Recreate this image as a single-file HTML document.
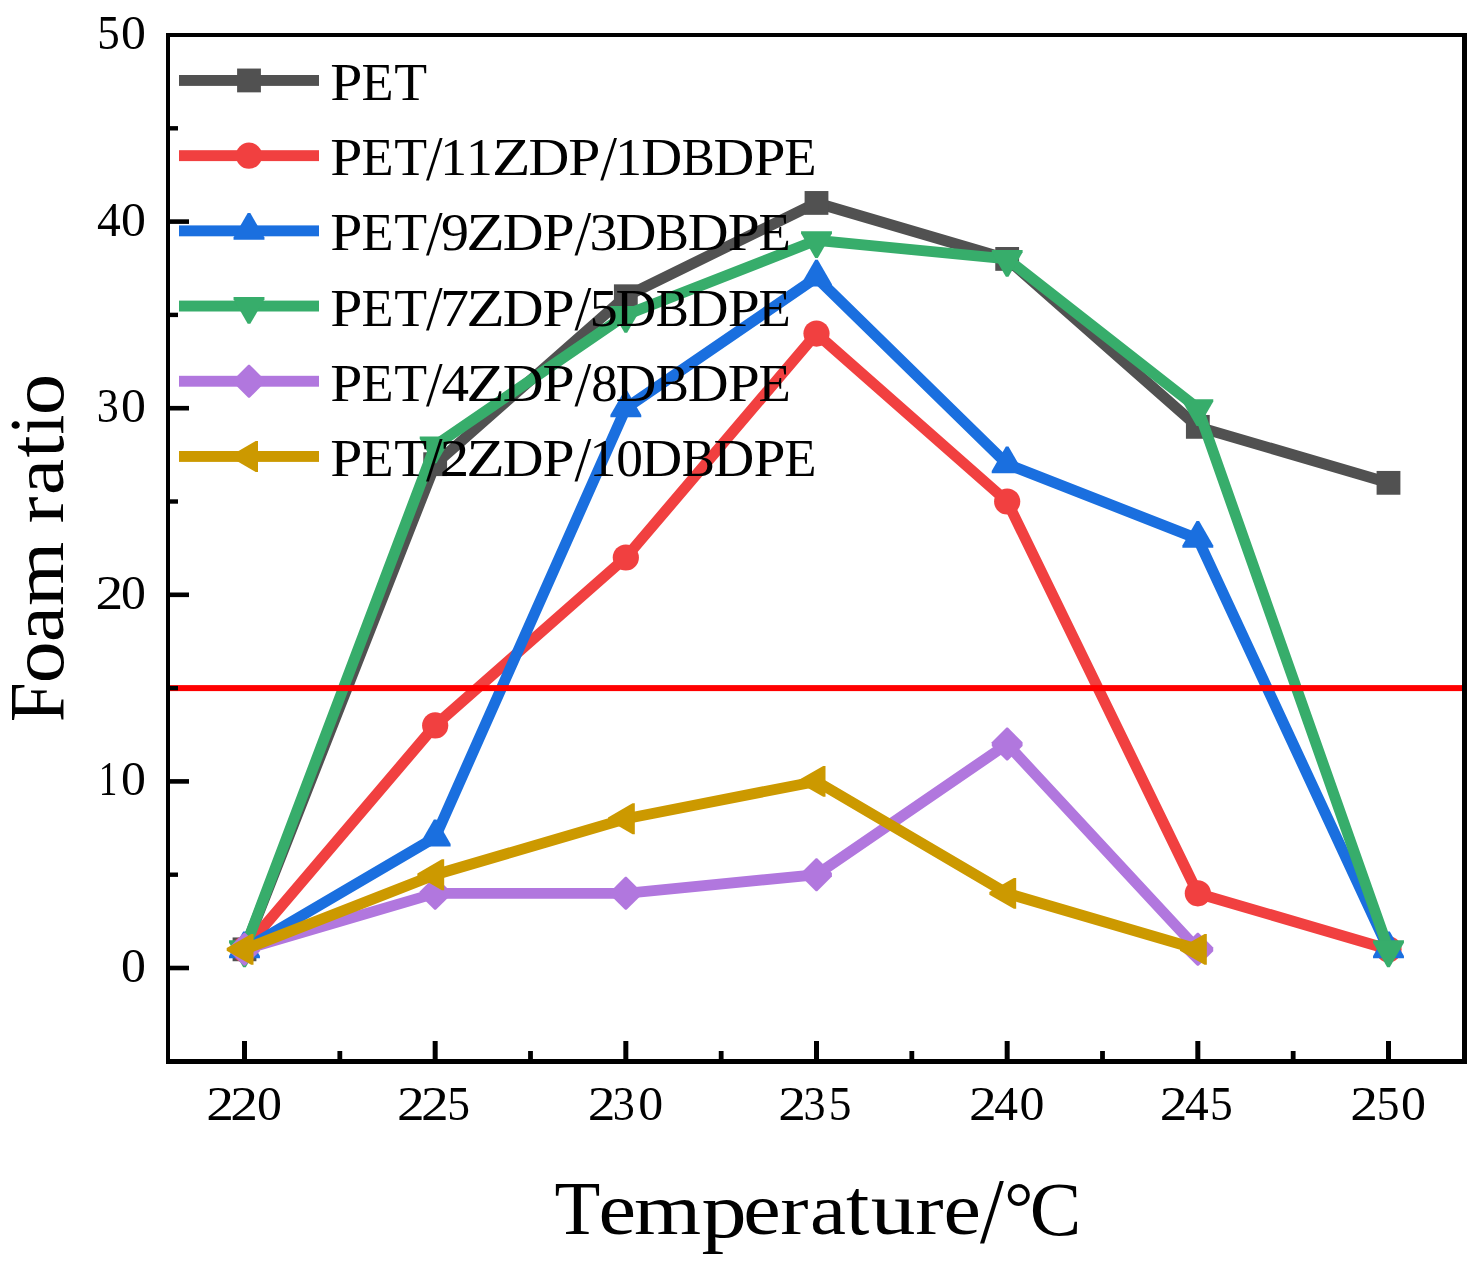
<!DOCTYPE html><html><head><meta charset="utf-8"><style>html,body{margin:0;padding:0;background:#fff;}svg{display:block;}text{font-family:"Liberation Serif",serif;font-size:200px;fill:#000;}.t{opacity:0.999}</style></head><body>
<svg width="1482" height="1271" viewBox="0 0 1482 1271">
<rect width="1482" height="1271" fill="#fff"/>
<path d="M244.50,949.34 L435.17,464.18 L625.83,296.24 L816.50,202.94 L1007.17,258.92 L1197.83,426.86 L1388.50,482.84" fill="none" stroke="#515151" stroke-width="10.9" stroke-linejoin="miter" stroke-miterlimit="4"/>
<rect x="232.60" y="937.44" width="23.8" height="23.8" fill="#515151"/>
<rect x="423.27" y="452.28" width="23.8" height="23.8" fill="#515151"/>
<rect x="613.93" y="284.34" width="23.8" height="23.8" fill="#515151"/>
<rect x="804.60" y="191.04" width="23.8" height="23.8" fill="#515151"/>
<rect x="995.27" y="247.02" width="23.8" height="23.8" fill="#515151"/>
<rect x="1185.93" y="414.96" width="23.8" height="23.8" fill="#515151"/>
<rect x="1376.60" y="470.94" width="23.8" height="23.8" fill="#515151"/>
<path d="M244.50,949.34 L435.17,725.42 L625.83,557.48 L816.50,333.56 L1007.17,501.50 L1197.83,893.36 L1388.50,949.34" fill="none" stroke="#F14040" stroke-width="10.9" stroke-linejoin="miter" stroke-miterlimit="4"/>
<circle cx="244.50" cy="949.34" r="13.1" fill="#F14040"/>
<circle cx="435.17" cy="725.42" r="13.1" fill="#F14040"/>
<circle cx="625.83" cy="557.48" r="13.1" fill="#F14040"/>
<circle cx="816.50" cy="333.56" r="13.1" fill="#F14040"/>
<circle cx="1007.17" cy="501.50" r="13.1" fill="#F14040"/>
<circle cx="1197.83" cy="893.36" r="13.1" fill="#F14040"/>
<circle cx="1388.50" cy="949.34" r="13.1" fill="#F14040"/>
<path d="M244.50,949.34 L435.17,837.38 L625.83,408.20 L816.50,277.58 L1007.17,464.18 L1197.83,538.82 L1388.50,949.34" fill="none" stroke="#1A6FDF" stroke-width="10.9" stroke-linejoin="miter" stroke-miterlimit="4"/>
<polygon points="229.05,956.05 243.20,931.54 245.80,931.54 259.95,956.05 259.95,958.34 229.05,958.34" fill="#1A6FDF"/>
<polygon points="419.72,844.09 433.87,819.58 436.47,819.58 450.62,844.09 450.62,846.38 419.72,846.38" fill="#1A6FDF"/>
<polygon points="610.38,414.91 624.53,390.40 627.13,390.40 641.28,414.91 641.28,417.20 610.38,417.20" fill="#1A6FDF"/>
<polygon points="801.05,284.29 815.20,259.78 817.80,259.78 831.95,284.29 831.95,286.58 801.05,286.58" fill="#1A6FDF"/>
<polygon points="991.72,470.89 1005.87,446.38 1008.47,446.38 1022.62,470.89 1022.62,473.18 991.72,473.18" fill="#1A6FDF"/>
<polygon points="1182.38,545.53 1196.53,521.02 1199.13,521.02 1213.28,545.53 1213.28,547.82 1182.38,547.82" fill="#1A6FDF"/>
<polygon points="1373.05,956.05 1387.20,931.54 1389.80,931.54 1403.95,956.05 1403.95,958.34 1373.05,958.34" fill="#1A6FDF"/>
<path d="M244.50,949.34 L435.17,445.52 L625.83,314.90 L816.50,240.26 L1007.17,258.92 L1197.83,408.20 L1388.50,949.34" fill="none" stroke="#37AD6B" stroke-width="10.9" stroke-linejoin="miter" stroke-miterlimit="4"/>
<polygon points="229.05,942.63 243.20,967.14 245.80,967.14 259.95,942.63 259.95,940.34 229.05,940.34" fill="#37AD6B"/>
<polygon points="419.72,438.81 433.87,463.32 436.47,463.32 450.62,438.81 450.62,436.52 419.72,436.52" fill="#37AD6B"/>
<polygon points="610.38,308.19 624.53,332.70 627.13,332.70 641.28,308.19 641.28,305.90 610.38,305.90" fill="#37AD6B"/>
<polygon points="801.05,233.55 815.20,258.06 817.80,258.06 831.95,233.55 831.95,231.26 801.05,231.26" fill="#37AD6B"/>
<polygon points="991.72,252.21 1005.87,276.72 1008.47,276.72 1022.62,252.21 1022.62,249.92 991.72,249.92" fill="#37AD6B"/>
<polygon points="1182.38,401.49 1196.53,426.00 1199.13,426.00 1213.28,401.49 1213.28,399.20 1182.38,399.20" fill="#37AD6B"/>
<polygon points="1373.05,942.63 1387.20,967.14 1389.80,967.14 1403.95,942.63 1403.95,940.34 1373.05,940.34" fill="#37AD6B"/>
<path d="M244.50,949.34 L435.17,893.36 L625.83,893.36 L816.50,874.70 L1007.17,744.08 L1197.83,949.34" fill="none" stroke="#B177DE" stroke-width="10.9" stroke-linejoin="miter" stroke-miterlimit="4"/>
<polygon points="229.10,947.54 243.80,932.84 245.20,932.84 259.90,947.54 259.90,951.14 245.20,965.84 243.80,965.84 229.10,951.14" fill="#B177DE"/>
<polygon points="419.77,891.56 434.47,876.86 435.87,876.86 450.57,891.56 450.57,895.16 435.87,909.86 434.47,909.86 419.77,895.16" fill="#B177DE"/>
<polygon points="610.43,891.56 625.13,876.86 626.53,876.86 641.23,891.56 641.23,895.16 626.53,909.86 625.13,909.86 610.43,895.16" fill="#B177DE"/>
<polygon points="801.10,872.90 815.80,858.20 817.20,858.20 831.90,872.90 831.90,876.50 817.20,891.20 815.80,891.20 801.10,876.50" fill="#B177DE"/>
<polygon points="991.77,742.28 1006.47,727.58 1007.87,727.58 1022.57,742.28 1022.57,745.88 1007.87,760.58 1006.47,760.58 991.77,745.88" fill="#B177DE"/>
<polygon points="1182.43,947.54 1197.13,932.84 1198.53,932.84 1213.23,947.54 1213.23,951.14 1198.53,965.84 1197.13,965.84 1182.43,951.14" fill="#B177DE"/>
<path d="M244.50,949.34 L435.17,874.70 L625.83,818.72 L816.50,781.40 L1007.17,893.36 L1197.83,949.34" fill="none" stroke="#CC9900" stroke-width="10.9" stroke-linejoin="miter" stroke-miterlimit="4"/>
<polygon points="251.21,933.89 226.70,948.04 226.70,950.64 251.21,964.79 253.50,964.79 253.50,933.89" fill="#CC9900"/>
<polygon points="441.88,859.25 417.37,873.40 417.37,876.00 441.88,890.15 444.17,890.15 444.17,859.25" fill="#CC9900"/>
<polygon points="632.54,803.27 608.03,817.42 608.03,820.02 632.54,834.17 634.83,834.17 634.83,803.27" fill="#CC9900"/>
<polygon points="823.21,765.95 798.70,780.10 798.70,782.70 823.21,796.85 825.50,796.85 825.50,765.95" fill="#CC9900"/>
<polygon points="1013.87,877.91 989.37,892.06 989.37,894.66 1013.87,908.81 1016.17,908.81 1016.17,877.91" fill="#CC9900"/>
<polygon points="1204.54,933.89 1180.03,948.04 1180.03,950.64 1204.54,964.79 1206.83,964.79 1206.83,933.89" fill="#CC9900"/>
<rect x="168" y="685.10" width="1296" height="6" fill="#FF0000"/>
<g fill="#000">
<rect x="166" y="33" width="4" height="1031"/>
<rect x="1462" y="33" width="5" height="1031"/>
<rect x="166" y="33" width="1301" height="4"/>
<rect x="166" y="1059" width="1301" height="5"/>
<rect x="166" y="965.70" width="23" height="4.6"/>
<rect x="166" y="779.10" width="23" height="4.6"/>
<rect x="166" y="592.50" width="23" height="4.6"/>
<rect x="166" y="405.90" width="23" height="4.6"/>
<rect x="166" y="219.30" width="23" height="4.6"/>
<rect x="166" y="872.50" width="12" height="4.4"/>
<rect x="166" y="685.90" width="12" height="4.4"/>
<rect x="166" y="499.30" width="12" height="4.4"/>
<rect x="166" y="312.70" width="12" height="4.4"/>
<rect x="166" y="126.10" width="12" height="4.4"/>
<rect x="242.00" y="1041" width="5" height="23"/>
<rect x="432.67" y="1041" width="5" height="23"/>
<rect x="623.33" y="1041" width="5" height="23"/>
<rect x="814.00" y="1041" width="5" height="23"/>
<rect x="1004.67" y="1041" width="5" height="23"/>
<rect x="1195.33" y="1041" width="5" height="23"/>
<rect x="1386.00" y="1041" width="5" height="23"/>
<rect x="337.43" y="1051" width="4.8" height="13"/>
<rect x="528.10" y="1051" width="4.8" height="13"/>
<rect x="718.77" y="1051" width="4.8" height="13"/>
<rect x="909.43" y="1051" width="4.8" height="13"/>
<rect x="1100.10" y="1051" width="4.8" height="13"/>
<rect x="1290.77" y="1051" width="4.8" height="13"/>
</g>
<rect x="179" y="75.00" width="140" height="10.9" fill="#515151"/>
<rect x="237.10" y="68.55" width="23.8" height="23.8" fill="#515151"/>
<rect x="179" y="150.20" width="140" height="10.9" fill="#F14040"/>
<circle cx="249.00" cy="155.65" r="13.1" fill="#F14040"/>
<rect x="179" y="225.40" width="140" height="10.9" fill="#1A6FDF"/>
<polygon points="233.55,237.56 247.70,213.05 250.30,213.05 264.45,237.56 264.45,239.85 233.55,239.85" fill="#1A6FDF"/>
<rect x="179" y="300.60" width="140" height="10.9" fill="#37AD6B"/>
<polygon points="233.55,299.34 247.70,323.85 250.30,323.85 264.45,299.34 264.45,297.05 233.55,297.05" fill="#37AD6B"/>
<rect x="179" y="375.80" width="140" height="10.9" fill="#B177DE"/>
<polygon points="233.60,379.45 248.30,364.75 249.70,364.75 264.40,379.45 264.40,383.05 249.70,397.75 248.30,397.75 233.60,383.05" fill="#B177DE"/>
<rect x="179" y="451.00" width="140" height="10.9" fill="#CC9900"/>
<polygon points="255.71,441.00 231.20,455.15 231.20,457.75 255.71,471.90 258.00,471.90 258.00,441.00" fill="#CC9900"/>
<g class="t">
<text transform="translate(121.00,982.00) scale(0.2489,0.2391)">0</text>
<text transform="translate(98.63,795.40) scale(0.1861,0.2409)">1</text>
<text transform="translate(121.00,795.40) scale(0.2489,0.2391)">0</text>
<text transform="translate(95.47,608.80) scale(0.2769,0.2401)">2</text>
<text transform="translate(121.00,608.80) scale(0.2489,0.2391)">0</text>
<text transform="translate(96.69,422.20) scale(0.2203,0.2401)">3</text>
<text transform="translate(121.00,422.20) scale(0.2489,0.2391)">0</text>
<text transform="translate(96.97,235.60) scale(0.2377,0.2416)">4</text>
<text transform="translate(121.00,235.60) scale(0.2489,0.2391)">0</text>
<text transform="translate(97.29,49.00) scale(0.2247,0.2428)">5</text>
<text transform="translate(121.00,49.00) scale(0.2489,0.2391)">0</text>
<text transform="translate(206.32,1119.90) scale(0.2769,0.2424)">2</text>
<text transform="translate(230.22,1119.90) scale(0.2769,0.2424)">2</text>
<text transform="translate(256.90,1119.90) scale(0.2495,0.2413)">0</text>
<text transform="translate(396.98,1119.90) scale(0.2769,0.2424)">2</text>
<text transform="translate(420.88,1119.90) scale(0.2769,0.2424)">2</text>
<text transform="translate(447.33,1119.90) scale(0.2271,0.2451)">5</text>
<text transform="translate(587.65,1119.90) scale(0.2769,0.2424)">2</text>
<text transform="translate(612.72,1119.90) scale(0.2203,0.2424)">3</text>
<text transform="translate(638.23,1119.90) scale(0.2495,0.2413)">0</text>
<text transform="translate(778.32,1119.90) scale(0.2769,0.2424)">2</text>
<text transform="translate(803.39,1119.90) scale(0.2203,0.2424)">3</text>
<text transform="translate(828.66,1119.90) scale(0.2271,0.2451)">5</text>
<text transform="translate(968.98,1119.90) scale(0.2769,0.2424)">2</text>
<text transform="translate(994.34,1119.90) scale(0.2377,0.2438)">4</text>
<text transform="translate(1019.57,1119.90) scale(0.2495,0.2413)">0</text>
<text transform="translate(1159.65,1119.90) scale(0.2769,0.2424)">2</text>
<text transform="translate(1185.00,1119.90) scale(0.2377,0.2438)">4</text>
<text transform="translate(1209.99,1119.90) scale(0.2271,0.2451)">5</text>
<text transform="translate(1350.32,1119.90) scale(0.2769,0.2424)">2</text>
<text transform="translate(1376.76,1119.90) scale(0.2271,0.2451)">5</text>
<text transform="translate(1400.90,1119.90) scale(0.2495,0.2413)">0</text>
<text transform="translate(330.34,99.90) scale(0.2883,0.2673)">P</text>
<text transform="translate(361.49,99.90) scale(0.2621,0.2673)">E</text>
<text transform="translate(394.13,99.90) scale(0.2690,0.2673)">T</text>
<text transform="translate(330.34,175.10) scale(0.2883,0.2673)">P</text>
<text transform="translate(361.49,175.10) scale(0.2621,0.2673)">E</text>
<text transform="translate(394.13,175.10) scale(0.2690,0.2673)">T</text>
<text transform="translate(426.10,180.09) scale(0.2987,0.3124)">/</text>
<text transform="translate(440.28,175.10) scale(0.2684,0.2651)">1</text>
<text transform="translate(466.08,175.10) scale(0.2684,0.2651)">1</text>
<text transform="translate(492.08,175.10) scale(0.3158,0.2673)">Z</text>
<text transform="translate(528.57,175.10) scale(0.2824,0.2673)">D</text>
<text transform="translate(568.34,175.10) scale(0.2883,0.2673)">P</text>
<text transform="translate(600.20,180.09) scale(0.3023,0.3124)">/</text>
<text transform="translate(615.18,175.10) scale(0.2684,0.2651)">1</text>
<text transform="translate(641.36,175.10) scale(0.2839,0.2673)">D</text>
<text transform="translate(681.67,175.10) scale(0.2477,0.2673)">B</text>
<text transform="translate(713.47,175.10) scale(0.2824,0.2673)">D</text>
<text transform="translate(753.44,175.10) scale(0.2873,0.2673)">P</text>
<text transform="translate(784.28,175.10) scale(0.2640,0.2673)">E</text>
<text transform="translate(330.34,250.30) scale(0.2883,0.2673)">P</text>
<text transform="translate(361.49,250.30) scale(0.2621,0.2673)">E</text>
<text transform="translate(394.13,250.30) scale(0.2690,0.2673)">T</text>
<text transform="translate(426.10,255.29) scale(0.2987,0.3124)">/</text>
<text transform="translate(440.90,250.30) scale(0.2800,0.2643)">9</text>
<text transform="translate(466.28,250.30) scale(0.3158,0.2673)">Z</text>
<text transform="translate(502.77,250.30) scale(0.2824,0.2673)">D</text>
<text transform="translate(542.54,250.30) scale(0.2883,0.2673)">P</text>
<text transform="translate(574.40,255.29) scale(0.3023,0.3124)">/</text>
<text transform="translate(589.52,250.30) scale(0.2796,0.2643)">3</text>
<text transform="translate(615.56,250.30) scale(0.2839,0.2673)">D</text>
<text transform="translate(655.87,250.30) scale(0.2477,0.2673)">B</text>
<text transform="translate(687.67,250.30) scale(0.2824,0.2673)">D</text>
<text transform="translate(727.64,250.30) scale(0.2873,0.2673)">P</text>
<text transform="translate(758.48,250.30) scale(0.2640,0.2673)">E</text>
<text transform="translate(330.34,325.50) scale(0.2883,0.2673)">P</text>
<text transform="translate(361.49,325.50) scale(0.2621,0.2673)">E</text>
<text transform="translate(394.13,325.50) scale(0.2690,0.2673)">T</text>
<text transform="translate(426.10,330.49) scale(0.2987,0.3124)">/</text>
<text transform="translate(440.06,325.50) scale(0.2912,0.2673)">7</text>
<text transform="translate(466.28,325.50) scale(0.3158,0.2673)">Z</text>
<text transform="translate(502.77,325.50) scale(0.2824,0.2673)">D</text>
<text transform="translate(542.54,325.50) scale(0.2883,0.2673)">P</text>
<text transform="translate(574.40,330.49) scale(0.3023,0.3124)">/</text>
<text transform="translate(589.51,325.50) scale(0.2830,0.2673)">5</text>
<text transform="translate(615.56,325.50) scale(0.2839,0.2673)">D</text>
<text transform="translate(655.87,325.50) scale(0.2477,0.2673)">B</text>
<text transform="translate(687.67,325.50) scale(0.2824,0.2673)">D</text>
<text transform="translate(727.64,325.50) scale(0.2873,0.2673)">P</text>
<text transform="translate(758.48,325.50) scale(0.2640,0.2673)">E</text>
<text transform="translate(330.34,400.70) scale(0.2883,0.2673)">P</text>
<text transform="translate(361.49,400.70) scale(0.2621,0.2673)">E</text>
<text transform="translate(394.13,400.70) scale(0.2690,0.2673)">T</text>
<text transform="translate(426.10,405.69) scale(0.2987,0.3124)">/</text>
<text transform="translate(441.52,400.70) scale(0.2754,0.2659)">4</text>
<text transform="translate(466.28,400.70) scale(0.3158,0.2673)">Z</text>
<text transform="translate(502.77,400.70) scale(0.2824,0.2673)">D</text>
<text transform="translate(542.54,400.70) scale(0.2883,0.2673)">P</text>
<text transform="translate(574.40,405.69) scale(0.3023,0.3124)">/</text>
<text transform="translate(591.30,400.70) scale(0.2631,0.2631)">8</text>
<text transform="translate(615.56,400.70) scale(0.2839,0.2673)">D</text>
<text transform="translate(655.87,400.70) scale(0.2477,0.2673)">B</text>
<text transform="translate(687.67,400.70) scale(0.2824,0.2673)">D</text>
<text transform="translate(727.64,400.70) scale(0.2873,0.2673)">P</text>
<text transform="translate(758.48,400.70) scale(0.2640,0.2673)">E</text>
<text transform="translate(330.34,475.90) scale(0.2883,0.2673)">P</text>
<text transform="translate(361.49,475.90) scale(0.2621,0.2673)">E</text>
<text transform="translate(394.13,475.90) scale(0.2690,0.2673)">T</text>
<text transform="translate(426.10,480.89) scale(0.2987,0.3124)">/</text>
<text transform="translate(439.71,475.90) scale(0.2944,0.2643)">2</text>
<text transform="translate(466.28,475.90) scale(0.3158,0.2673)">Z</text>
<text transform="translate(502.77,475.90) scale(0.2824,0.2673)">D</text>
<text transform="translate(542.54,475.90) scale(0.2883,0.2673)">P</text>
<text transform="translate(574.40,480.89) scale(0.3023,0.3124)">/</text>
<text transform="translate(589.38,475.90) scale(0.2684,0.2651)">1</text>
<text transform="translate(616.17,475.90) scale(0.2666,0.2631)">0</text>
<text transform="translate(641.36,475.90) scale(0.2839,0.2673)">D</text>
<text transform="translate(681.67,475.90) scale(0.2477,0.2673)">B</text>
<text transform="translate(713.47,475.90) scale(0.2824,0.2673)">D</text>
<text transform="translate(753.44,475.90) scale(0.2873,0.2673)">P</text>
<text transform="translate(784.28,475.90) scale(0.2640,0.2673)">E</text>
<text transform="translate(554.55,1234.20) scale(0.3749,0.3833)">T</text>
<text transform="translate(598.50,1234.20) scale(0.4228,0.3650)">e</text>
<text transform="translate(634.09,1234.20) scale(0.4317,0.3629)">m</text>
<text transform="translate(701.44,1237.13) scale(0.4519,0.3940)">p</text>
<text transform="translate(743.31,1234.20) scale(0.4215,0.3650)">e</text>
<text transform="translate(780.30,1234.20) scale(0.4241,0.3629)">r</text>
<text transform="translate(810.05,1234.20) scale(0.4050,0.3644)">a</text>
<text transform="translate(846.08,1234.20) scale(0.4195,0.4014)">t</text>
<text transform="translate(870.82,1234.20) scale(0.4471,0.3726)">u</text>
<text transform="translate(915.30,1234.20) scale(0.4257,0.3629)">r</text>
<text transform="translate(943.61,1234.20) scale(0.4215,0.3650)">e</text>
<text transform="translate(980.00,1241.90) scale(0.4301,0.4619)">/</text>
<text transform="translate(1004.31,1232.37) scale(0.3644,0.3644)">°</text>
<text transform="translate(1029.63,1234.65) scale(0.3863,0.3855)">C</text>
<text transform="translate(63,720) rotate(-90) translate(-1.95,0.00) scale(0.3552,0.3871)">F</text>
<text transform="translate(63,720) rotate(-90) translate(36.71,0.36) scale(0.4188,0.3763)">o</text>
<text transform="translate(63,720) rotate(-90) translate(77.97,0.00) scale(0.4025,0.3676)">a</text>
<text transform="translate(63,720) rotate(-90) translate(113.96,0.00) scale(0.4135,0.3629)">m</text>
<text transform="translate(63,720) rotate(-90) translate(196.47,0.00) scale(0.4060,0.3587)">r</text>
<text transform="translate(63,720) rotate(-90) translate(224.94,0.00) scale(0.4063,0.3644)">a</text>
<text transform="translate(63,720) rotate(-90) translate(262.43,0.00) scale(0.3947,0.4005)">t</text>
<text transform="translate(63,720) rotate(-90) translate(285.60,0.00) scale(0.3575,0.3866)">i</text>
<text transform="translate(63,720) rotate(-90) translate(304.74,0.36) scale(0.4153,0.3763)">o</text>
</g>
</svg></body></html>
